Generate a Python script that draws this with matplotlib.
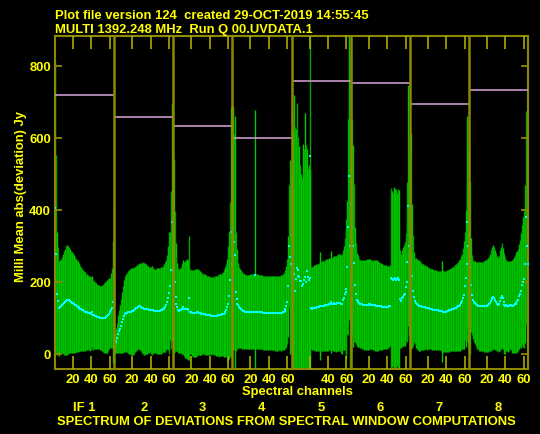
import numpy as np
import matplotlib.pyplot as plt

plt.rcParams['font.family'] = ['Liberation Sans', 'DejaVu Sans']
plt.rcParams['font.weight'] = 'bold'

n_chan = 64
if_labels = ['IF 1', '2', '3', '4', '5', '6', '7', '8']
x_tick_chans = [20, 40, 60]
y_ticks = [0, 200, 400, 600, 800]

# level line drawn across each IF
levels = [720, 658, 633, 599, 758, 752, 694, 733]

if1_mean = [405, 278, 167, 148, 127, 130, 133, 136, 139, 142,
            145, 148, 150, 151, 151, 149, 147, 145, 143, 141,
            139, 137, 135, 133, 131, 130, 128, 126, 124, 122,
            121, 120, 118, 117, 116, 115, 114, 113, 112, 111,
            118, 109, 108, 106, 105, 104, 103, 102, 101, 100,
            100, 99, 100, 100, 101, 103, 105, 108, 112, 116,
            122, 128, 145, 228]
if1_err = [405, 275, 171, 150, 132, 130, 131, 134, 138, 144,
           148, 151, 153, 152, 150, 147, 144, 142, 140, 139,
           136, 133, 130, 128, 126, 123, 121, 119, 117, 115,
           113, 111, 109, 106, 105, 104, 104, 104, 102, 100,
           99, 97, 95, 93, 92, 91, 90, 89, 89, 90,
           92, 93, 94, 96, 99, 100, 101, 100, 98, 96,
           104, 110, 170, 184]

if2_mean = [30, 33, 37, 45, 55, 63, 70, 78, 88, 96,
            105, 111, 113, 115, 116, 117, 117, 118, 118, 119,
            119, 121, 124, 127, 129, 131, 132, 133, 132, 130,
            128, 127, 126, 125, 125, 124, 124, 123, 123, 122,
            122, 121, 121, 120, 120, 120, 119, 119, 120, 120,
            121, 122, 124, 126, 128, 130, 136, 145, 155, 170,
            190, 234, 366, 230]
if2_err = [28, 30, 34, 42, 52, 60, 67, 75, 85, 93,
           100, 105, 108, 110, 112, 114, 116, 118, 120, 121,
           121, 120, 119, 118, 118, 118, 118, 118, 120, 123,
           126, 128, 128, 127, 125, 123, 120, 119, 118, 121,
           123, 123, 119, 117, 116, 117, 119, 119, 119, 120,
           120, 120, 119, 120, 122, 125, 126, 130, 145, 170,
           150, 220, 331, 200]

if3_mean = [273, 201, 159, 139, 130, 122, 120, 121, 123, 126,
            130, 125, 124, 125, 125, 124, 122, 156, 118, 116,
            114, 113, 113, 114, 115, 116, 116, 115, 114, 113,
            112, 112, 111, 111, 110, 109, 108, 108, 107, 107,
            106, 106, 106, 106, 106, 106, 106, 106, 107, 107,
            108, 109, 110, 111, 112, 114, 117, 122, 130, 140,
            162, 206, 340, 250]
if3_err = [270, 196, 150, 130, 122, 118, 116, 117, 120, 128,
           130, 130, 135, 135, 140, 138, 138, 173, 117, 117,
           119, 120, 121, 122, 122, 121, 120, 118, 116, 115,
           114, 113, 112, 112, 112, 111, 110, 110, 109, 108,
           108, 107, 107, 107, 108, 110, 111, 112, 113, 114,
           114, 114, 115, 117, 120, 122, 125, 128, 135, 160,
           176, 215, 346, 240]

if4_mean = [350, 310, 275, 173, 153, 140, 136, 130, 127, 124,
            121, 120, 119, 118, 117, 117, 116, 116, 116, 117,
            117, 118, 118, 118, 219, 118, 118, 117, 117, 117,
            116, 116, 116, 115, 115, 115, 114, 114, 114, 114,
            113, 113, 113, 113, 113, 113, 113, 113, 113, 113,
            114, 114, 114, 115, 116, 118, 120, 125, 132, 145,
            188, 299, 270, 250]
if4_err = [340, 300, 386, 165, 140, 125, 118, 112, 110, 108,
           106, 105, 104, 104, 103, 103, 103, 103, 103, 104,
           104, 104, 104, 104, 460, 104, 104, 104, 103, 103,
           103, 103, 103, 103, 103, 103, 103, 103, 103, 103,
           103, 103, 103, 103, 103, 103, 104, 104, 104, 104,
           104, 104, 105, 105, 106, 106, 106, 108, 112, 118,
           140, 170, 269, 240]

if5_mean = [330, 250, 222, 176, 208, 240, 218, 232, 215, 204,
            202, 188, 195, 206, 213, 200, 230, 215, 205, 551,
            210, 127, 126, 127, 128, 128, 129, 130, 130, 131,
            132, 132, 133, 133, 134, 134, 135, 136, 136, 137,
            138, 139, 145, 140, 139, 140, 141, 140, 139, 141,
            143, 143, 142, 140, 139, 150, 155, 167, 172, 181,
            241, 352, 495, 300]
if5_err = [330, 370, 497, 454, 418, 457, 320, 370, 362, 320,
           297, 300, 389, 364, 456, 380, 340, 300, 320, 340,
           300, 114, 116, 117, 118, 119, 120, 121, 121, 122,
           150, 123, 124, 124, 125, 125, 126, 127, 127, 128,
           128, 129, 142, 128, 130, 131, 132, 132, 133, 134,
           135, 136, 135, 136, 138, 140, 145, 155, 175, 194,
           185, 300, 400, 350]

if6_mean = [417, 352, 300, 252, 192, 167, 151, 147, 144, 142,
            140, 139, 138, 137, 136, 136, 136, 137, 137, 138,
            138, 137, 137, 136, 136, 135, 135, 134, 134, 133,
            133, 132, 132, 131, 131, 131, 130, 130, 130, 130,
            131, 132, 134, 210, 208, 206, 208, 210, 208, 206,
            208, 210, 206, 153, 148, 155, 159, 163, 167, 185,
            201, 255, 412, 300]
if6_err = [417, 300, 280, 220, 160, 140, 130, 127, 125, 123,
           122, 122, 123, 124, 126, 126, 126, 126, 126, 126,
           125, 124, 123, 123, 124, 125, 126, 127, 126, 125,
           123, 122, 120, 119, 118, 117, 117, 116, 116, 115,
           114, 113, 113, 250, 245, 240, 255, 245, 250, 252,
           240, 248, 250, 135, 130, 135, 137, 140, 145, 150,
           160, 222, 335, 250]

if7_mean = [300, 315, 216, 176, 157, 148, 142, 138, 136, 134,
            133, 133, 132, 131, 131, 130, 130, 129, 128, 128,
            127, 126, 125, 125, 124, 123, 123, 122, 122, 121,
            121, 120, 120, 119, 119, 118, 118, 118, 118, 118,
            119, 120, 121, 122, 123, 124, 125, 126, 127, 128,
            129, 130, 132, 134, 137, 141, 146, 155, 165, 188,
            210, 250, 368, 300]
if7_err = [294, 300, 200, 155, 125, 120, 124, 125, 126, 126,
           126, 124, 122, 121, 120, 118, 117, 116, 116, 114,
           113, 113, 112, 112, 112, 112, 111, 111, 110, 110,
           110, 110, 110, 111, 140, 112, 112, 112, 112, 113,
           113, 114, 115, 115, 116, 117, 117, 118, 119, 120,
           121, 122, 124, 126, 128, 130, 133, 140, 150, 150,
           190, 218, 292, 280]

if8_mean = [331, 241, 192, 164, 151, 145, 142, 138, 135, 134,
            133, 132, 132, 132, 132, 132, 132, 133, 133, 134,
            136, 140, 143, 148, 152, 155, 159, 155, 150, 145,
            140, 136, 140, 148, 155, 162, 155, 145, 136, 134,
            135, 133, 132, 134, 136, 135, 132, 134, 136, 138,
            140, 143, 146, 150, 160, 168, 176, 192, 200, 208,
            250, 380, 300, 250]
if8_err = [314, 240, 130, 110, 110, 112, 115, 117, 120, 121,
           122, 123, 123, 123, 123, 124, 126, 127, 128, 129,
           131, 133, 135, 140, 142, 143, 145, 142, 140, 135,
           132, 130, 133, 140, 142, 145, 140, 135, 135, 133,
           127, 126, 127, 125, 123, 124, 128, 130, 134, 136,
           138, 140, 141, 143, 145, 148, 160, 165, 180, 190,
           220, 296, 280, 240]

means = [if1_mean, if2_mean, if3_mean, if4_mean, if5_mean, if6_mean, if7_mean, if8_mean]
errs = [if1_err, if2_err, if3_err, if4_err, if5_err, if6_err, if7_err, if8_err]

YEL = '#ffff00'
FRAME = '#8c8a00'
TICK = '#b8b800'
FS = 9.4
W, H = 540, 435

fig = plt.figure(figsize=(W / 100, H / 100), dpi=100, facecolor='black')
ax = fig.add_axes([55 / W, 65 / H, 473 / W, 333.5 / H], facecolor='black')

chan = np.arange(1, n_chan + 1)
for k in range(8):
    x = k * n_chan + chan
    m = np.array(means[k])
    e = np.array(errs[k])
    cols = ['#00c800' if c % 2 else '#00a400' for c in chan]
    ax.vlines(x, m - e, m + e, colors=cols, lw=1.0, zorder=2)
    ax.plot(x, m, 's', ms=2.0, color='#00ffff', mew=0, zorder=4)
    ax.hlines(levels[k], k * n_chan + 0.5, (k + 1) * n_chan + 0.5,
              color='#c898c8', lw=1.2, zorder=3)
    if k:
        ax.axvline(k * n_chan + 0.5, color=FRAME, lw=1.8, zorder=5)

xt = [k * n_chan + c for k in range(8) for c in x_tick_chans]
xl = [str(c) for k in range(8) for c in x_tick_chans]
xl[12] = ''  # the "20" under IF 5 is not written
ax.set_xticks(xt)
ax.set_xticklabels(xl)
ax.set_yticks(y_ticks)
ax.set_xlim(0.5, 512.5)
ax.set_ylim(-41.7, 884.7)
ax.set_axisbelow(False)

ax.tick_params(axis='x', direction='in', length=9.4, width=1.1, color=TICK,
               top=True, labelcolor=YEL, labelsize=FS, pad=3.2)
ax.tick_params(axis='y', direction='in', length=5.2, width=1.3, color=FRAME,
               right=True, labelcolor=YEL, labelsize=FS, pad=3)
for s in ax.spines.values():
    s.set_color(FRAME)
    s.set_linewidth(1.5)

def ftext(px, py, s, **kw):
    fig.text(px / W, 1 - py / H, s, color=YEL, fontsize=FS, fontweight='bold', **kw)

ftext(55, 19, 'Plot file version 124  created 29-OCT-2019 14:55:45', ha='left', va='baseline')
ftext(55, 32.8, 'MULTI 1392.248 MHz  Run Q 00.UVDATA.1', ha='left', va='baseline')
ftext(21, 197, 'Milli Mean abs(deviation) Jy', rotation=90, ha='center', va='center')
ftext(297, 395.5, 'Spectral channels', ha='center', va='baseline')
for k, lab in enumerate(if_labels):
    ftext(55 + 59.1 * (k + 0.5), 411.5, lab, ha='center', va='baseline')
ftext(286.5, 425, 'SPECTRUM OF DEVIATIONS FROM SPECTRAL WINDOW COMPUTATIONS', ha='center', va='baseline')

fig.savefig('out.png', dpi=100, facecolor='black')
